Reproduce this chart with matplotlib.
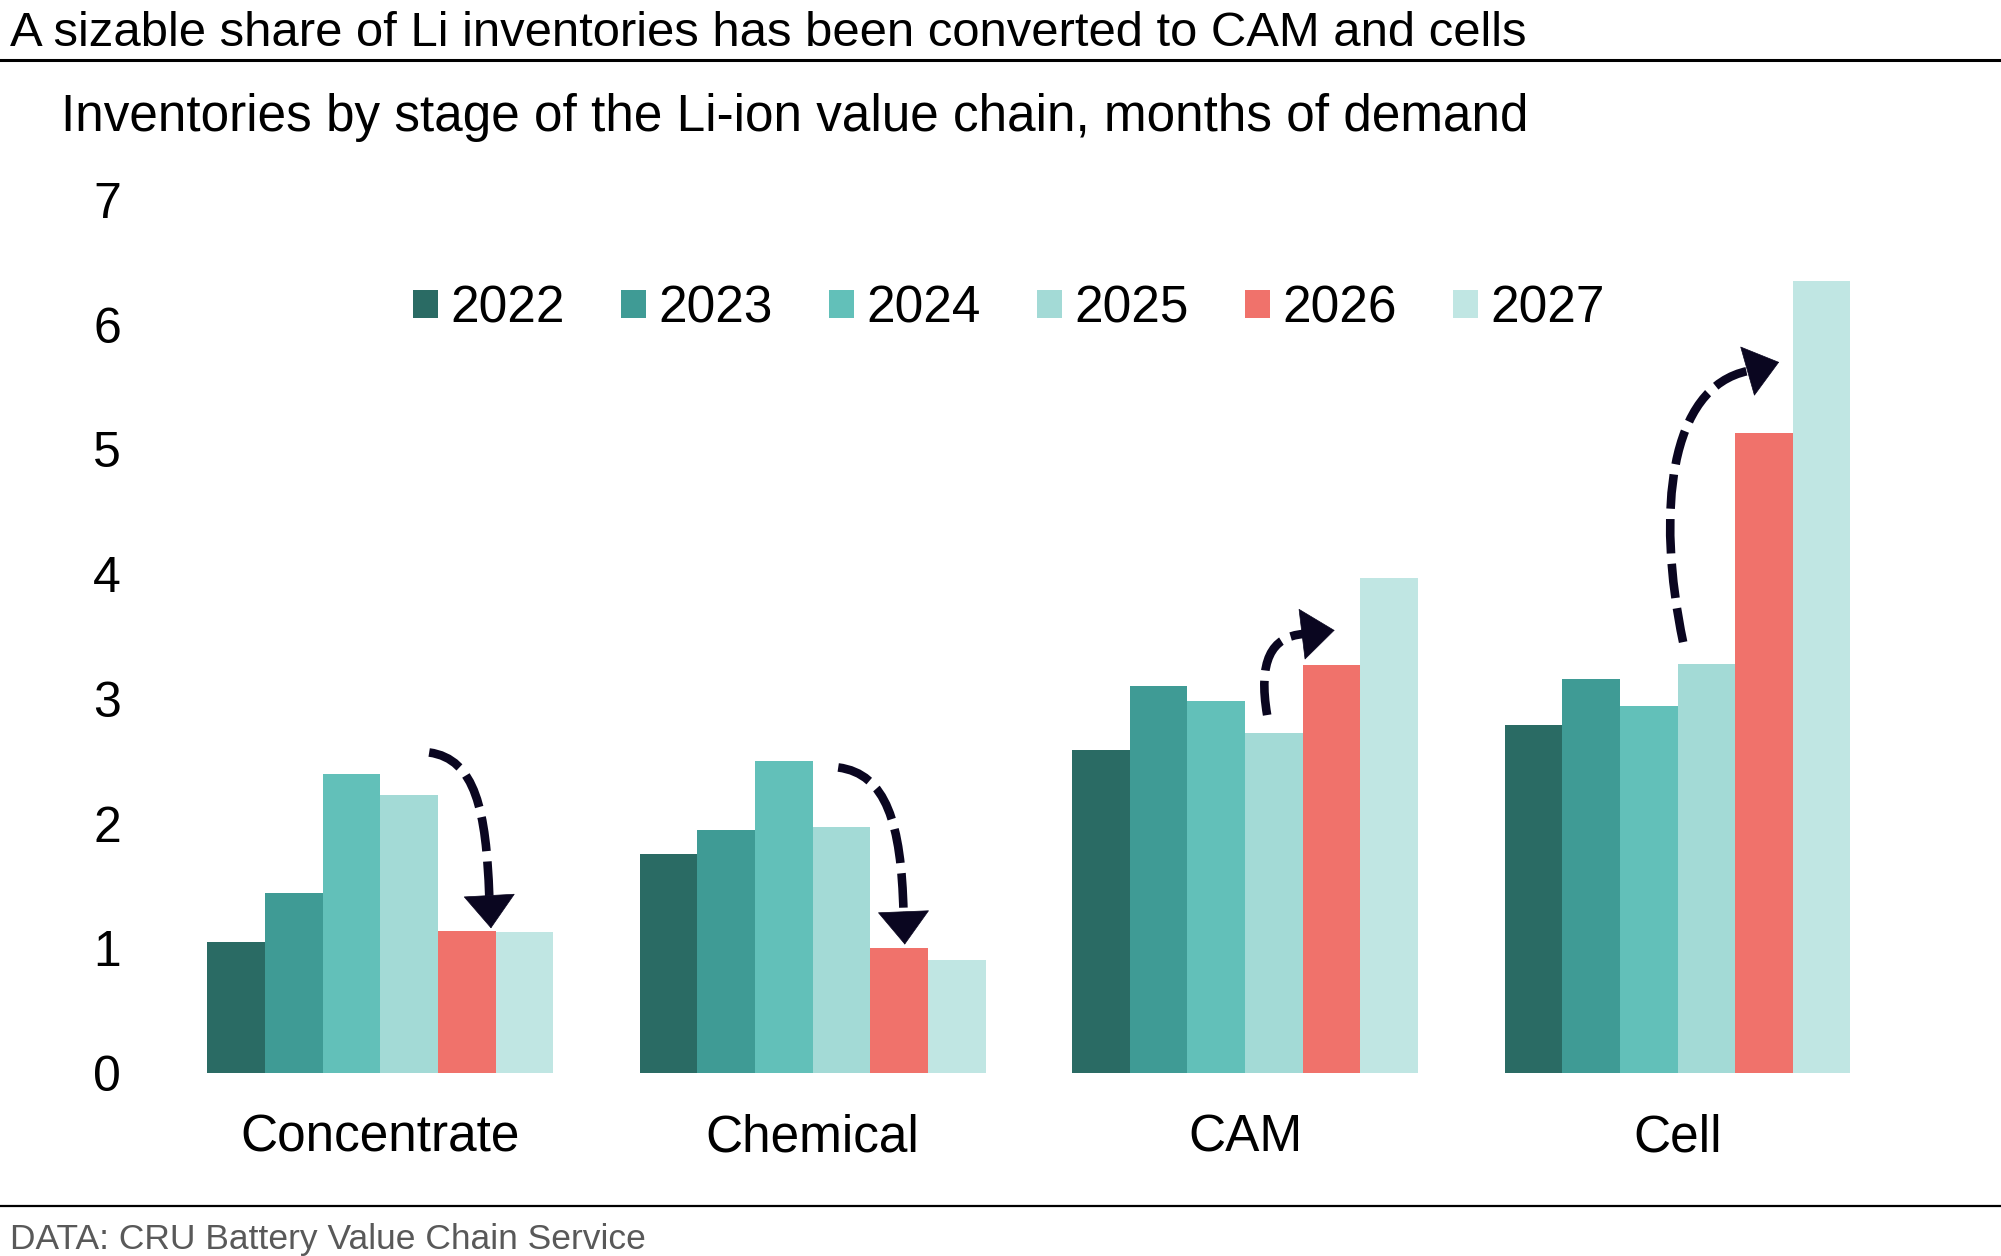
import numpy as np
import matplotlib
matplotlib.use('Agg')
import matplotlib.pyplot as plt
from matplotlib.path import Path
from matplotlib.patches import PathPatch
from matplotlib.lines import Line2D

plt.rcParams['font.family'] = ['Liberation Sans', 'DejaVu Sans']

# Stages of the value chain and the years shown
STAGES = ['Concentrate', 'Chemical', 'CAM', 'Cell']
YEARS = ['2022', '2023', '2024', '2025', '2026', '2027']

# Inventories, months of demand, one list per year (Concentrate, Chemical, CAM, Cell)
INV_2022 = [1.05, 1.76, 2.59, 2.79]
INV_2023 = [1.44, 1.95, 3.10, 3.16]
INV_2024 = [2.40, 2.50, 2.98, 2.94]
INV_2025 = [2.23, 1.97, 2.73, 3.28]
INV_2026 = [1.14, 1.00, 3.27, 5.13]
INV_2027 = [1.13, 0.91, 3.97, 6.35]
SERIES = [INV_2022, INV_2023, INV_2024, INV_2025, INV_2026, INV_2027]

COLORS = ['#2a6b64', '#3f9b95', '#62c0b9', '#a3dad6', '#f0726b', '#c0e6e3']
ARROW_COLOR = '#0a0620'

# Dashed annotation arrows: bezier start, two control points, head base, head tip (data coords)
ARROWS = [
  [(0.113, 2.57), (0.22, 2.52), (0.245, 2.10), (0.252, 1.42), (0.256, 1.16)],
  [(1.059, 2.45), (1.17, 2.40), (1.205, 2.00), (1.210, 1.29), (1.213, 1.03)],
  [(2.051, 2.87), (2.030, 3.30), (2.060, 3.50), (2.135, 3.52), (2.207, 3.55)],
  [(3.013, 3.455), (2.950, 4.50), (2.980, 5.50), (3.164, 5.63), (3.235, 5.70)],
]

W, H = 2001, 1256
fig = plt.figure(figsize=(W / 100, H / 100), dpi=100)

# axes placed in pixel terms
ax_l, ax_r, ax_b, ax_t = 164.1, 1893.7, 1073.0, 200.0
ax = fig.add_axes([ax_l / W, (H - ax_b) / H, (ax_r - ax_l) / W, (ax_b - ax_t) / H])

n = len(YEARS)
bw = 0.8 / n
x = np.arange(len(STAGES))
for i, (year, vals) in enumerate(zip(YEARS, SERIES)):
  ax.bar(x + (i - (n - 1) / 2) * bw, vals, width=bw, color=COLORS[i], label=year, linewidth=0)

ax.set_xlim(-0.5, len(STAGES) - 0.5)
ax.set_ylim(0, 7)
ax.set_yticks(range(0, 8))
ax.set_xticks(x)
ax.set_xticklabels(STAGES)
ax.tick_params(axis='y', length=0, pad=31, labelsize=36)
ax.tick_params(axis='x', length=0, pad=29, labelsize=37)
for s in ax.spines.values():
  s.set_visible(False)

leg = ax.legend(loc='center', bbox_to_anchor=(0.4885, 0.8754), ncol=6, frameon=False,
                fontsize=37, handlelength=0.48, handleheight=0.48, handletextpad=0.25,
                columnspacing=1.09, borderpad=0, borderaxespad=0)

# dashed curved arrows
for p0, c1, c2, base, tip in ARROWS:
  path = Path([p0, c1, c2, base], [Path.MOVETO, Path.CURVE4, Path.CURVE4, Path.CURVE4])
  ax.add_patch(PathPatch(path, fill=False, edgecolor=ARROW_COLOR, linewidth=6.2,
                         linestyle=(0, (4.0, 1.2)), capstyle='butt'))
  ax.annotate('', xy=tip, xytext=base,
              arrowprops=dict(arrowstyle='-|>,head_length=0.58,head_width=0.45',
                              mutation_scale=40, color=ARROW_COLOR, lw=0.5,
                              shrinkA=0, shrinkB=0))

# titles and rules
fig.text(10 / W, 1 - 33 / H, 'A sizable share of Li inventories has been converted to CAM and cells',
         fontsize=35.3, ha='left', va='center')
fig.add_artist(Line2D([0, 1], [1 - 60 / H, 1 - 60 / H], color='black', lw=2.2))
fig.text(61 / W, 1 - 117 / H, 'Inventories by stage of the Li-ion value chain, months of demand',
         fontsize=36.9, ha='left', va='center')
fig.add_artist(Line2D([0, 1], [1 - 1206 / H, 1 - 1206 / H], color='black', lw=1.6))
fig.text(10 / W, 1 - 1239 / H, 'DATA: CRU Battery Value Chain Service',
         fontsize=25.5, ha='left', va='center', color='#595959')

fig.savefig('out.png', dpi=100)
